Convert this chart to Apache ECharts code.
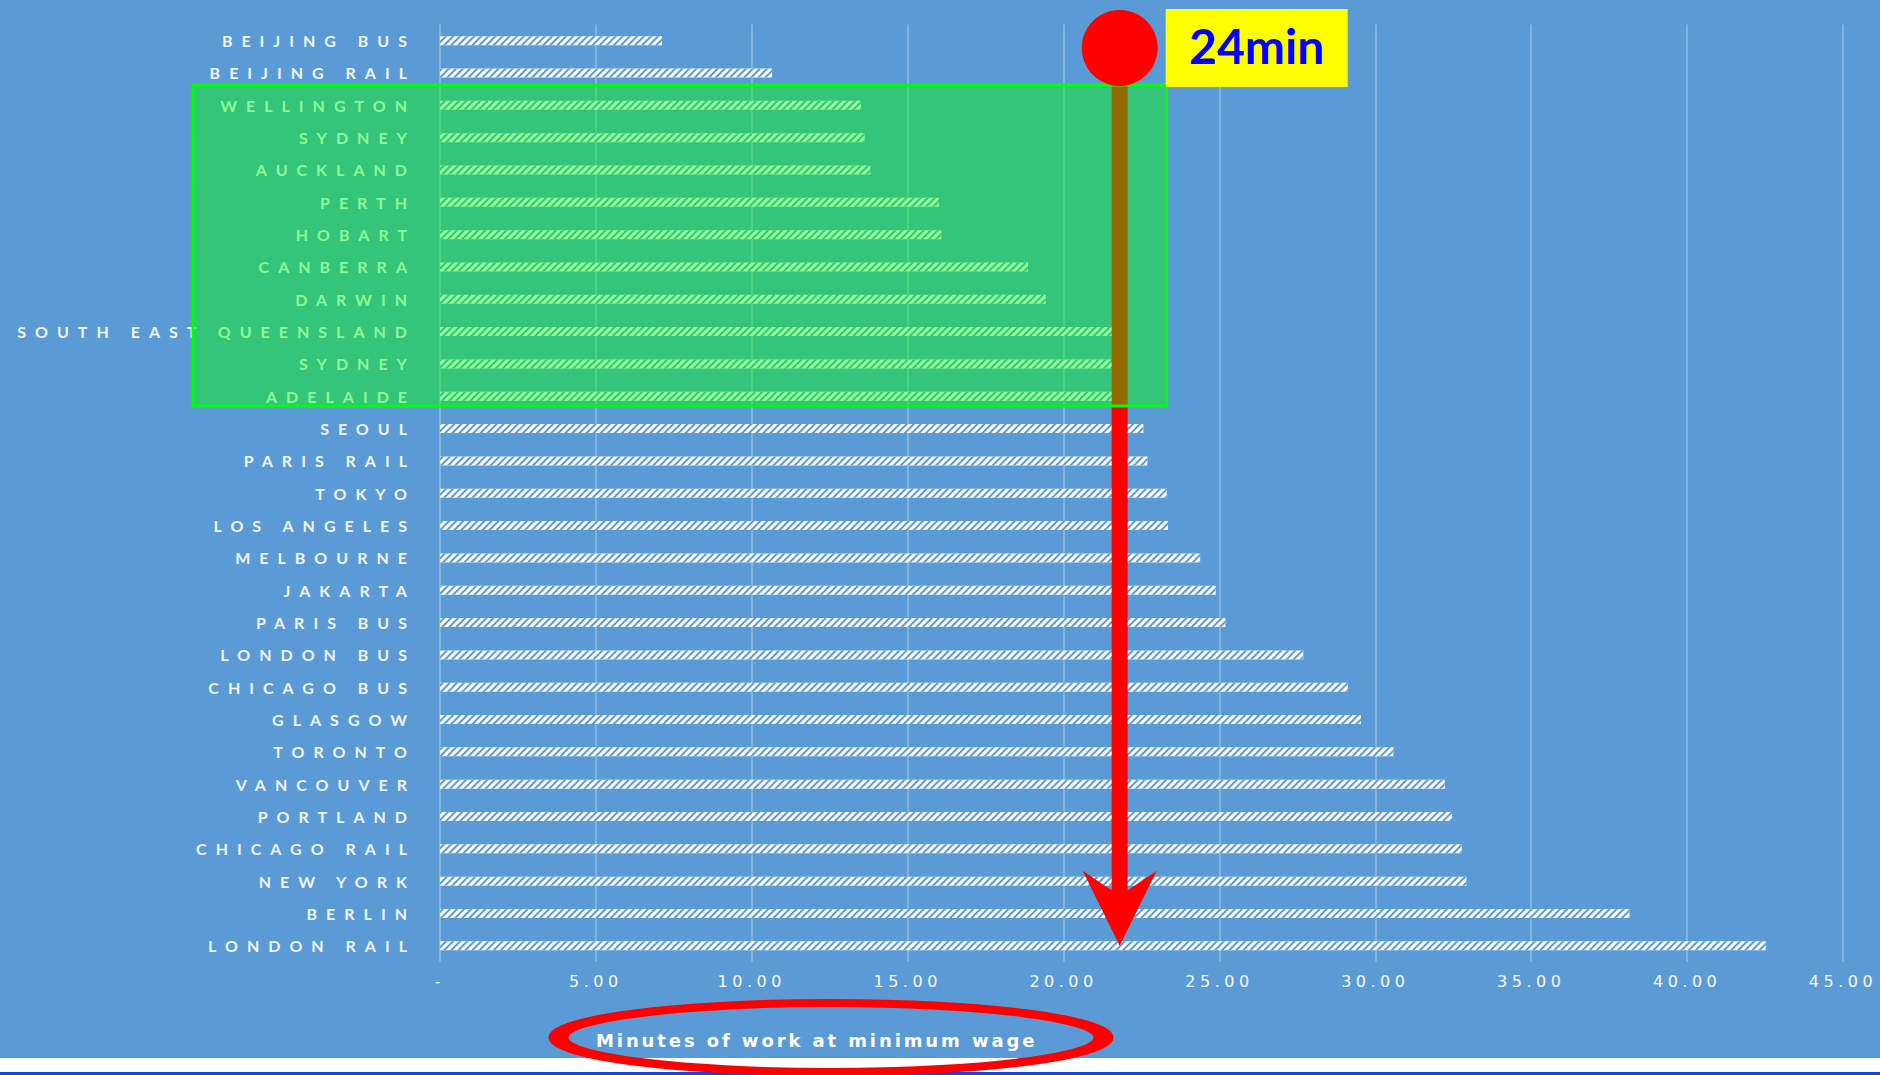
<!DOCTYPE html>
<html>
<head>
<meta charset="utf-8">
<script src="https://cdn.jsdelivr.net/npm/echarts@6/dist/echarts.min.js"></script>
<style>
html, body { margin: 0; padding: 0; background: #5b9bd5; overflow: hidden; }
#chart { width: 1880px; height: 1075px; }
#chart text[style*="catlbl"] { letter-spacing: 9px; }
#chart text[style*="ticklbl"] { letter-spacing: 4.5px; }
#chart text[style*="namelbl"] { letter-spacing: 2.9px; }
</style>
</head>
<body>
<div id="chart"></div>
<script>
// ---- data ----
const categories = [
  'BEIJING BUS', 'BEIJING RAIL', 'WELLINGTON', 'SYDNEY', 'AUCKLAND', 'PERTH', 'HOBART',
  'CANBERRA', 'DARWIN', 'SOUTH EAST QUEENSLAND', 'SYDNEY', 'ADELAIDE', 'SEOUL',
  'PARIS RAIL', 'TOKYO', 'LOS ANGELES', 'MELBOURNE', 'JAKARTA', 'PARIS BUS',
  'LONDON BUS', 'CHICAGO BUS', 'GLASGOW', 'TORONTO', 'VANCOUVER', 'PORTLAND',
  'CHICAGO RAIL', 'NEW YORK', 'BERLIN', 'LONDON RAIL'
];
const minutes = [
  7.12, 10.65, 13.50, 13.62, 13.80, 16.00, 16.08,
  18.86, 19.43, 21.90, 21.90, 21.90, 22.56,
  22.69, 23.31, 23.35, 24.38, 24.88, 25.19,
  27.69, 29.12, 29.54, 30.58, 32.23, 32.46,
  32.77, 32.92, 38.15, 42.52
];
const xTickLabels = ['-', '5.00', '10.00', '15.00', '20.00', '25.00', '30.00', '35.00', '40.00', '45.00'];
const axisTitle = 'Minutes of work at minimum wage';
const highlightFirst = 2;   // WELLINGTON
const highlightLast = 11;   // ADELAIDE
const markerValue = 21.8;
const markerLabel = '24min';

// ---- chart ----
const BG = '#5b9bd5';
const chart = echarts.init(document.getElementById('chart'), null, { renderer: 'svg' });

const option = {
  backgroundColor: BG,
  animation: false,
  grid: { left: 440, top: 24.5, width: 1403, height: 937.5, containLabel: false, outerBoundsMode: 'none' },
  xAxis: {
    type: 'value', min: 0, max: 45, interval: 5,
    axisLine: { show: false }, axisTick: { show: false },
    splitLine: { show: true, lineStyle: { color: 'rgba(255,255,255,0.32)', width: 1.5 } },
    axisLabel: {
      color: '#f6f8fc', fontSize: 16, fontFamily: 'ticklbl, DejaVu Sans', margin: 11,
      formatter: v => xTickLabels[Math.round(v / 5)]
    }
  },
  yAxis: {
    type: 'category', data: categories, inverse: true,
    axisLine: { show: false }, axisTick: { show: false }, splitLine: { show: false },
    axisLabel: {
      interval: 0, color: '#f0f4fa', fontSize: 16, fontWeight: 'bold',
      fontFamily: 'catlbl, Lato', margin: 24
    }
  },
  series: [{
    type: 'bar', data: minutes, barWidth: 9, silent: true,
    itemStyle: {
      color: '#ffffff',
      decal: { symbol: 'rect', symbolSize: 1, dashArrayX: [1, 0], dashArrayY: [1.6, 3], rotation: -Math.PI / 4, color: BG }
    }
  }]
};
chart.setOption(option);

// ---- annotations positioned from the chart's scales ----
const xAt = v => chart.convertToPixel({ xAxisIndex: 0 }, v);
const yAt = i => chart.convertToPixel({ yAxisIndex: 0 }, i);
const band = yAt(1) - yAt(0);
const mx = xAt(markerValue);
const ovTop = yAt(highlightFirst) - 0.63 * band;
const ovBottom = yAt(highlightLast) + 0.3 * band;
const ovLeft = 193;
const ovRight = mx + 47;
const cy = ovTop - 37;
const tipY = yAt(categories.length - 1);
const notchY = tipY - 50;

chart.setOption({
  graphic: [
    { type: 'rect', z: 10, silent: true, shape: { x: mx - 8, y: cy, width: 16, height: notchY - cy + 4 }, style: { fill: '#ff0000' } },
    { type: 'polygon', z: 10, silent: true, shape: { points: [[mx, tipY], [mx - 37, tipY - 75], [mx, notchY], [mx + 37, tipY - 75]] }, style: { fill: '#ff0000' } },
    { type: 'rect', z: 50, silent: true, shape: { x: ovLeft, y: ovTop, width: ovRight - ovLeft, height: ovBottom - ovTop }, style: { fill: 'rgba(0,255,0,0.42)', stroke: '#00ff00', lineWidth: 3 } },
    { type: 'circle', z: 60, silent: true, shape: { cx: mx, cy: cy, r: 38 }, style: { fill: '#ff0000' } },
    { type: 'rect', z: 60, silent: true, shape: { x: mx + 46, y: cy - 39, width: 182, height: 78 }, style: { fill: '#ffff00' } },
    { type: 'text', z: 61, silent: true, style: { text: markerLabel, x: mx + 137, y: cy - 2, fill: '#0000ff', fontSize: 48, fontWeight: 'bold', fontFamily: 'Lato', align: 'center', verticalAlign: 'middle', textAlign: 'center', textVerticalAlign: 'middle' } },
    { type: 'rect', z: 5, silent: true, shape: { x: 0, y: 1058, width: 1880, height: 14 }, style: { fill: '#ffffff' } },
    { type: 'rect', z: 5, silent: true, shape: { x: 0, y: 1072, width: 1880, height: 3 }, style: { fill: '#1543e0' } },
    { type: 'text', z: 61, silent: true, style: { text: axisTitle, x: 596, y: 1040, fill: '#ffffff', fontSize: 18, fontWeight: 'bold', fontFamily: 'namelbl, DejaVu Sans', align: 'left', verticalAlign: 'middle', textAlign: 'left', textVerticalAlign: 'middle' } },
    { type: 'ellipse', z: 62, silent: true, x: 831, y: 1037.5, scaleX: 2.5, scaleY: 1, shape: { cx: 0, cy: 0, rx: 109, ry: 34.5 }, style: { fill: 'none', stroke: '#ff0000', lineWidth: 8 } }
  ]
});
</script>
</body>
</html>
